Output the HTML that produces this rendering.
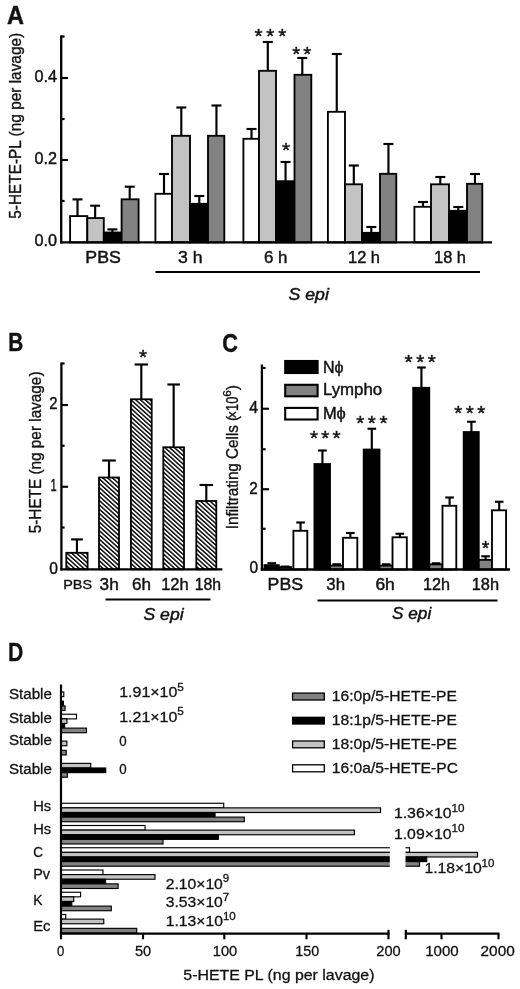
<!DOCTYPE html>
<html lang="en"><head><meta charset="utf-8"><title>Figure</title>
<style>html,body{margin:0;padding:0;background:#fff}svg{display:block}text{font-family:"Liberation Sans",Arial,Helvetica,sans-serif;fill:#111;stroke:#111;stroke-width:0.42px;stroke-linejoin:round}#panelD text{stroke-width:0.28px}text.r{stroke-width:0.36px}</style>
</head><body>
<svg width="520" height="989" viewBox="0 0 520 989">
<defs><pattern id="hatch" width="3.2" height="3.2" patternUnits="userSpaceOnUse" patternTransform="rotate(-48) translate(0.9 0)"><rect width="3.2" height="3.2" fill="#fff"/><rect x="0" y="0" width="1.5" height="3.2" fill="#0c0c0c"/></pattern></defs>
<rect x="0" y="0" width="520" height="989" fill="#fff"/>
<g id="panelA">
<text x="7.1" y="23.7" font-size="25.3" font-weight="bold" textLength="17" lengthAdjust="spacingAndGlyphs">A</text>
<text class="r" transform="translate(20.5 218.8) rotate(-90)" font-size="17" textLength="186" lengthAdjust="spacingAndGlyphs">5-HETE-PL (ng per lavage)</text>
<line x1="77.5" y1="199.4" x2="77.5" y2="217.3" stroke="#000" stroke-width="2.15"/>
<line x1="72.5" y1="199.4" x2="82.5" y2="199.4" stroke="#000" stroke-width="2.15"/>
<rect x="70.1" y="216.1" width="17.2" height="26.3" fill="#fff" stroke="#000" stroke-width="1.85"/>
<line x1="95.15" y1="205.7" x2="95.15" y2="219.3" stroke="#000" stroke-width="2.15"/>
<line x1="90.15" y1="205.7" x2="100.15" y2="205.7" stroke="#000" stroke-width="2.15"/>
<rect x="87.3" y="218.1" width="16.5" height="24.3" fill="#c3c3c3" stroke="#000" stroke-width="1.85"/>
<line x1="112.4" y1="229.4" x2="112.4" y2="233.7" stroke="#000" stroke-width="2.15"/>
<line x1="107.4" y1="229.4" x2="117.4" y2="229.4" stroke="#000" stroke-width="2.15"/>
<rect x="103.8" y="232.5" width="17.8" height="9.9" fill="#000" stroke="#000" stroke-width="1.85"/>
<line x1="129.7" y1="186.7" x2="129.7" y2="200.5" stroke="#000" stroke-width="2.15"/>
<line x1="124.7" y1="186.7" x2="134.7" y2="186.7" stroke="#000" stroke-width="2.15"/>
<rect x="121.6" y="199.3" width="17" height="43.1" fill="#828282" stroke="#000" stroke-width="1.85"/>
<line x1="164" y1="174" x2="164" y2="195" stroke="#000" stroke-width="2.15"/>
<line x1="159" y1="174" x2="169" y2="174" stroke="#000" stroke-width="2.15"/>
<rect x="155.4" y="193.8" width="16.6" height="48.6" fill="#fff" stroke="#000" stroke-width="1.85"/>
<line x1="181.3" y1="107.5" x2="181.3" y2="137" stroke="#000" stroke-width="2.15"/>
<line x1="176.3" y1="107.5" x2="186.3" y2="107.5" stroke="#000" stroke-width="2.15"/>
<rect x="172" y="135.8" width="18" height="106.6" fill="#c3c3c3" stroke="#000" stroke-width="1.85"/>
<line x1="199.3" y1="196" x2="199.3" y2="205" stroke="#000" stroke-width="2.15"/>
<line x1="194.3" y1="196" x2="204.3" y2="196" stroke="#000" stroke-width="2.15"/>
<rect x="190" y="203.8" width="18" height="38.6" fill="#000" stroke="#000" stroke-width="1.85"/>
<line x1="216.45" y1="105.5" x2="216.45" y2="137" stroke="#000" stroke-width="2.15"/>
<line x1="211.45" y1="105.5" x2="221.45" y2="105.5" stroke="#000" stroke-width="2.15"/>
<rect x="208" y="135.8" width="16.3" height="106.6" fill="#828282" stroke="#000" stroke-width="1.85"/>
<line x1="251.5" y1="129" x2="251.5" y2="140" stroke="#000" stroke-width="2.15"/>
<line x1="246.5" y1="129" x2="256.5" y2="129" stroke="#000" stroke-width="2.15"/>
<rect x="243.4" y="138.8" width="15.6" height="103.6" fill="#fff" stroke="#000" stroke-width="1.85"/>
<line x1="267.8" y1="42" x2="267.8" y2="72" stroke="#000" stroke-width="2.15"/>
<line x1="262.8" y1="42" x2="272.8" y2="42" stroke="#000" stroke-width="2.15"/>
<rect x="259" y="70.8" width="17" height="171.6" fill="#c3c3c3" stroke="#000" stroke-width="1.85"/>
<line x1="285.55" y1="162" x2="285.55" y2="182.4" stroke="#000" stroke-width="2.15"/>
<line x1="280.55" y1="162" x2="290.55" y2="162" stroke="#000" stroke-width="2.15"/>
<rect x="276" y="181.2" width="18.5" height="61.2" fill="#000" stroke="#000" stroke-width="1.85"/>
<line x1="302.3" y1="58" x2="302.3" y2="76" stroke="#000" stroke-width="2.15"/>
<line x1="297.3" y1="58" x2="307.3" y2="58" stroke="#000" stroke-width="2.15"/>
<rect x="294.5" y="74.8" width="16.8" height="167.6" fill="#828282" stroke="#000" stroke-width="1.85"/>
<line x1="336.75" y1="54" x2="336.75" y2="113" stroke="#000" stroke-width="2.15"/>
<line x1="331.75" y1="54" x2="341.75" y2="54" stroke="#000" stroke-width="2.15"/>
<rect x="327.9" y="111.8" width="17.1" height="130.6" fill="#fff" stroke="#000" stroke-width="1.85"/>
<line x1="353.8" y1="165.5" x2="353.8" y2="185.5" stroke="#000" stroke-width="2.15"/>
<line x1="348.8" y1="165.5" x2="358.8" y2="165.5" stroke="#000" stroke-width="2.15"/>
<rect x="345" y="184.3" width="17" height="58.1" fill="#c3c3c3" stroke="#000" stroke-width="1.85"/>
<line x1="371.3" y1="227" x2="371.3" y2="234" stroke="#000" stroke-width="2.15"/>
<line x1="366.3" y1="227" x2="376.3" y2="227" stroke="#000" stroke-width="2.15"/>
<rect x="362" y="232.8" width="18" height="9.6" fill="#000" stroke="#000" stroke-width="1.85"/>
<line x1="388.45" y1="144" x2="388.45" y2="175" stroke="#000" stroke-width="2.15"/>
<line x1="383.45" y1="144" x2="393.45" y2="144" stroke="#000" stroke-width="2.15"/>
<rect x="380" y="173.8" width="16.3" height="68.6" fill="#828282" stroke="#000" stroke-width="1.85"/>
<line x1="423" y1="202" x2="423" y2="208" stroke="#000" stroke-width="2.15"/>
<line x1="418" y1="202" x2="428" y2="202" stroke="#000" stroke-width="2.15"/>
<rect x="414.4" y="206.8" width="16.6" height="35.6" fill="#fff" stroke="#000" stroke-width="1.85"/>
<line x1="440.3" y1="177" x2="440.3" y2="185.5" stroke="#000" stroke-width="2.15"/>
<line x1="435.3" y1="177" x2="445.3" y2="177" stroke="#000" stroke-width="2.15"/>
<rect x="431" y="184.3" width="18" height="58.1" fill="#c3c3c3" stroke="#000" stroke-width="1.85"/>
<line x1="458.3" y1="207" x2="458.3" y2="212" stroke="#000" stroke-width="2.15"/>
<line x1="453.3" y1="207" x2="463.3" y2="207" stroke="#000" stroke-width="2.15"/>
<rect x="449" y="210.8" width="18" height="31.6" fill="#000" stroke="#000" stroke-width="1.85"/>
<line x1="474.95" y1="174" x2="474.95" y2="185" stroke="#000" stroke-width="2.15"/>
<line x1="469.95" y1="174" x2="479.95" y2="174" stroke="#000" stroke-width="2.15"/>
<rect x="467" y="183.8" width="15.3" height="58.6" fill="#828282" stroke="#000" stroke-width="1.85"/>
<line x1="61.2" y1="35.4" x2="61.2" y2="243.5" stroke="#000" stroke-width="2.3"/>
<line x1="60" y1="242.4" x2="492" y2="242.4" stroke="#000" stroke-width="2.3"/>
<line x1="61.2" y1="78" x2="68" y2="78" stroke="#000" stroke-width="2.15"/>
<line x1="61.2" y1="160" x2="68" y2="160" stroke="#000" stroke-width="2.15"/>
<line x1="61.2" y1="36.5" x2="64.6" y2="36.5" stroke="#000" stroke-width="2.15"/>
<line x1="61.2" y1="119" x2="64.6" y2="119" stroke="#000" stroke-width="2.15"/>
<line x1="61.2" y1="201" x2="64.6" y2="201" stroke="#000" stroke-width="2.15"/>
<text x="34.4" y="82" font-size="16" textLength="22.5" lengthAdjust="spacingAndGlyphs">0.4</text>
<text x="34.4" y="164" font-size="16" textLength="22.5" lengthAdjust="spacingAndGlyphs">0.2</text>
<text x="34.4" y="246" font-size="16" textLength="22.5" lengthAdjust="spacingAndGlyphs">0.0</text>
<text x="85.3" y="263" font-size="16" textLength="35.5" lengthAdjust="spacingAndGlyphs">PBS</text>
<text x="178" y="263" font-size="16" textLength="24.5" lengthAdjust="spacingAndGlyphs">3 h</text>
<text x="264" y="263" font-size="16" textLength="23.5" lengthAdjust="spacingAndGlyphs">6 h</text>
<text x="348" y="263" font-size="16" textLength="32" lengthAdjust="spacingAndGlyphs">12 h</text>
<text x="434" y="263" font-size="16" textLength="32" lengthAdjust="spacingAndGlyphs">18 h</text>
<line x1="155.5" y1="272" x2="480" y2="272" stroke="#000" stroke-width="2.15"/>
<text x="288.5" y="299.5" font-size="16" font-style="italic" textLength="40.4" lengthAdjust="spacingAndGlyphs">S epi</text>
<text x="254.57 266.27 278.17" y="42.7" font-size="20.7">***</text>
<text x="292.17 303.37" y="61.3" font-size="20.7">**</text>
<text x="281.97" y="156.7" font-size="20.7">*</text>
</g>
<g id="panelB">
<text x="8.2" y="351.2" font-size="25.3" font-weight="bold" textLength="15" lengthAdjust="spacingAndGlyphs">B</text>
<text class="r" transform="translate(40.5 533.3) rotate(-90)" font-size="17" textLength="161.8" lengthAdjust="spacingAndGlyphs">5-HETE (ng per lavage)</text>
<line x1="76.95" y1="539.4" x2="76.95" y2="553.3" stroke="#000" stroke-width="2.15"/>
<line x1="71.1" y1="539.4" x2="82.8" y2="539.4" stroke="#000" stroke-width="2.15"/>
<rect x="66.3" y="552.8" width="21.3" height="16.5" fill="url(#hatch)" stroke="#000" stroke-width="1.8"/>
<line x1="109" y1="460.5" x2="109" y2="478" stroke="#000" stroke-width="2.15"/>
<line x1="102.25" y1="460.5" x2="115.75" y2="460.5" stroke="#000" stroke-width="2.15"/>
<rect x="99" y="477.5" width="20" height="91.8" fill="url(#hatch)" stroke="#000" stroke-width="1.8"/>
<line x1="141.3" y1="364.5" x2="141.3" y2="399.75" stroke="#000" stroke-width="2.15"/>
<line x1="134.55" y1="364.5" x2="148.05" y2="364.5" stroke="#000" stroke-width="2.15"/>
<rect x="130.9" y="399.25" width="20.8" height="170.05" fill="url(#hatch)" stroke="#000" stroke-width="1.8"/>
<line x1="173.65" y1="384.5" x2="173.65" y2="447.75" stroke="#000" stroke-width="2.15"/>
<line x1="167.4" y1="384.5" x2="179.9" y2="384.5" stroke="#000" stroke-width="2.15"/>
<rect x="163.3" y="447.25" width="20.7" height="122.05" fill="url(#hatch)" stroke="#000" stroke-width="1.8"/>
<line x1="206.3" y1="485" x2="206.3" y2="501.5" stroke="#000" stroke-width="2.15"/>
<line x1="199.55" y1="485" x2="213.05" y2="485" stroke="#000" stroke-width="2.15"/>
<rect x="196.3" y="501" width="20" height="68.3" fill="url(#hatch)" stroke="#000" stroke-width="1.8"/>
<line x1="61.4" y1="362.5" x2="61.4" y2="570.4" stroke="#000" stroke-width="2.3"/>
<line x1="60.2" y1="569.3" x2="222.4" y2="569.3" stroke="#000" stroke-width="2.3"/>
<line x1="61.4" y1="405" x2="68" y2="405" stroke="#000" stroke-width="2.15"/>
<line x1="61.4" y1="486.75" x2="68" y2="486.75" stroke="#000" stroke-width="2.15"/>
<line x1="61.4" y1="363.5" x2="64.6" y2="363.5" stroke="#000" stroke-width="2.15"/>
<line x1="61.4" y1="445.75" x2="64.6" y2="445.75" stroke="#000" stroke-width="2.15"/>
<line x1="61.4" y1="527.5" x2="64.6" y2="527.5" stroke="#000" stroke-width="2.15"/>
<text x="49.3" y="409.3" font-size="16" textLength="8.2" lengthAdjust="spacingAndGlyphs">2</text>
<text x="50.6" y="491.3" font-size="16" textLength="6.2" lengthAdjust="spacingAndGlyphs">1</text>
<text x="49.2" y="573.5" font-size="16" textLength="8.7" lengthAdjust="spacingAndGlyphs">0</text>
<text x="63.2" y="589.2" font-size="12.5" class="r" textLength="28.8" lengthAdjust="spacingAndGlyphs">PBS</text>
<text x="99.6" y="590" font-size="16" textLength="19.11" lengthAdjust="spacingAndGlyphs">3h</text>
<text x="132" y="590" font-size="16" textLength="19.01" lengthAdjust="spacingAndGlyphs">6h</text>
<text x="161.2" y="590" font-size="16" textLength="27.51" lengthAdjust="spacingAndGlyphs">12h</text>
<text x="194.7" y="590" font-size="16" textLength="26.31" lengthAdjust="spacingAndGlyphs">18h</text>
<line x1="105.5" y1="599.5" x2="210.5" y2="599.5" stroke="#000" stroke-width="2.15"/>
<text x="143.5" y="620" font-size="16" font-style="italic" textLength="40.1" lengthAdjust="spacingAndGlyphs">S epi</text>
<text x="139.07" y="363.7" font-size="20.7">*</text>
</g>
<g id="panelC">
<text x="222.2" y="352.2" font-size="25.3" font-weight="bold" textLength="15.6" lengthAdjust="spacingAndGlyphs">C</text>
<text class="r" transform="translate(238 529.2) rotate(-90)" font-size="17" textLength="113.4" lengthAdjust="spacingAndGlyphs">Infiltrating Cells (</text>
<text class="r" transform="translate(238 418.6) rotate(-90)" font-size="17" textLength="22" lengthAdjust="spacingAndGlyphs">×10</text>
<text class="r" transform="translate(230.6 396.8) rotate(-90)" font-size="11.5" textLength="6.6" lengthAdjust="spacingAndGlyphs">6</text>
<text class="r" transform="translate(238 390.2) rotate(-90)" font-size="17" textLength="5.2" lengthAdjust="spacingAndGlyphs">)</text>
<line x1="271.8" y1="563.2" x2="271.8" y2="565.8" stroke="#000" stroke-width="2.15"/>
<line x1="267.5" y1="563.2" x2="276.1" y2="563.2" stroke="#000" stroke-width="2.15"/>
<rect x="264.45" y="565.1" width="14.3" height="4.4" fill="#000" stroke="#000" stroke-width="1.85"/>
<line x1="285.07" y1="566.6" x2="285.07" y2="567.8" stroke="#000" stroke-width="2.15"/>
<line x1="280.77" y1="566.6" x2="289.38" y2="566.6" stroke="#000" stroke-width="2.15"/>
<rect x="278.75" y="567.1" width="12.25" height="2.4" fill="#828282" stroke="#000" stroke-width="1.85"/>
<line x1="300.55" y1="522.5" x2="300.55" y2="531.5" stroke="#000" stroke-width="2.15"/>
<line x1="296.25" y1="522.5" x2="304.85" y2="522.5" stroke="#000" stroke-width="2.15"/>
<rect x="293.4" y="530.8" width="13.9" height="38.7" fill="#fff" stroke="#000" stroke-width="1.85"/>
<line x1="322.43" y1="450.5" x2="322.43" y2="464.75" stroke="#000" stroke-width="2.15"/>
<line x1="318.12" y1="450.5" x2="326.73" y2="450.5" stroke="#000" stroke-width="2.15"/>
<rect x="314.45" y="464.05" width="15.55" height="105.45" fill="#000" stroke="#000" stroke-width="1.85"/>
<line x1="336.7" y1="564.3" x2="336.7" y2="566.3" stroke="#000" stroke-width="2.15"/>
<line x1="332.4" y1="564.3" x2="341" y2="564.3" stroke="#000" stroke-width="2.15"/>
<rect x="330" y="565.6" width="13" height="3.9" fill="#828282" stroke="#000" stroke-width="1.85"/>
<line x1="350.35" y1="533" x2="350.35" y2="538.5" stroke="#000" stroke-width="2.15"/>
<line x1="346.05" y1="533" x2="354.65" y2="533" stroke="#000" stroke-width="2.15"/>
<rect x="343" y="537.8" width="14.3" height="31.7" fill="#fff" stroke="#000" stroke-width="1.85"/>
<line x1="371.8" y1="428.75" x2="371.8" y2="450.25" stroke="#000" stroke-width="2.15"/>
<line x1="367.5" y1="428.75" x2="376.1" y2="428.75" stroke="#000" stroke-width="2.15"/>
<rect x="363.7" y="449.55" width="15.8" height="119.95" fill="#000" stroke="#000" stroke-width="1.85"/>
<line x1="386.2" y1="564.3" x2="386.2" y2="566.3" stroke="#000" stroke-width="2.15"/>
<line x1="381.9" y1="564.3" x2="390.5" y2="564.3" stroke="#000" stroke-width="2.15"/>
<rect x="379.5" y="565.6" width="13" height="3.9" fill="#828282" stroke="#000" stroke-width="1.85"/>
<line x1="399.85" y1="533.75" x2="399.85" y2="538" stroke="#000" stroke-width="2.15"/>
<line x1="395.55" y1="533.75" x2="404.15" y2="533.75" stroke="#000" stroke-width="2.15"/>
<rect x="392.5" y="537.3" width="14.3" height="32.2" fill="#fff" stroke="#000" stroke-width="1.85"/>
<line x1="421.43" y1="367.5" x2="421.43" y2="388.5" stroke="#000" stroke-width="2.15"/>
<line x1="417.12" y1="367.5" x2="425.73" y2="367.5" stroke="#000" stroke-width="2.15"/>
<rect x="413.2" y="387.8" width="16.05" height="181.7" fill="#000" stroke="#000" stroke-width="1.85"/>
<line x1="436.07" y1="563.3" x2="436.07" y2="565.05" stroke="#000" stroke-width="2.15"/>
<line x1="431.77" y1="563.3" x2="440.38" y2="563.3" stroke="#000" stroke-width="2.15"/>
<rect x="429.25" y="564.35" width="13.25" height="5.15" fill="#828282" stroke="#000" stroke-width="1.85"/>
<line x1="449.6" y1="497.5" x2="449.6" y2="506.5" stroke="#000" stroke-width="2.15"/>
<line x1="445.3" y1="497.5" x2="453.9" y2="497.5" stroke="#000" stroke-width="2.15"/>
<rect x="442.5" y="505.8" width="13.8" height="63.7" fill="#fff" stroke="#000" stroke-width="1.85"/>
<line x1="471.43" y1="421.75" x2="471.43" y2="432.75" stroke="#000" stroke-width="2.15"/>
<line x1="467.12" y1="421.75" x2="475.73" y2="421.75" stroke="#000" stroke-width="2.15"/>
<rect x="463.7" y="432.05" width="15.05" height="137.45" fill="#000" stroke="#000" stroke-width="1.85"/>
<line x1="485.57" y1="556.3" x2="485.57" y2="560.55" stroke="#000" stroke-width="2.15"/>
<line x1="481.27" y1="556.3" x2="489.88" y2="556.3" stroke="#000" stroke-width="2.15"/>
<rect x="478.75" y="559.85" width="13.25" height="9.65" fill="#828282" stroke="#000" stroke-width="1.85"/>
<line x1="499.22" y1="501.75" x2="499.22" y2="511" stroke="#000" stroke-width="2.15"/>
<line x1="494.92" y1="501.75" x2="503.52" y2="501.75" stroke="#000" stroke-width="2.15"/>
<rect x="492" y="510.3" width="14.05" height="59.2" fill="#fff" stroke="#000" stroke-width="1.85"/>
<line x1="261.9" y1="364.5" x2="261.9" y2="570.6" stroke="#000" stroke-width="2.3"/>
<line x1="260.8" y1="569.5" x2="510" y2="569.5" stroke="#000" stroke-width="2.3"/>
<line x1="261.9" y1="408.75" x2="269" y2="408.75" stroke="#000" stroke-width="2.15"/>
<line x1="261.9" y1="489.25" x2="269" y2="489.25" stroke="#000" stroke-width="2.15"/>
<line x1="261.9" y1="368" x2="265.6" y2="368" stroke="#000" stroke-width="2.15"/>
<line x1="261.9" y1="449.25" x2="265.6" y2="449.25" stroke="#000" stroke-width="2.15"/>
<line x1="261.9" y1="528.75" x2="265.6" y2="528.75" stroke="#000" stroke-width="2.15"/>
<text x="249.2" y="413.4" font-size="16" textLength="8.8" lengthAdjust="spacingAndGlyphs">4</text>
<text x="249.3" y="493.9" font-size="16" textLength="8.5" lengthAdjust="spacingAndGlyphs">2</text>
<text x="249.4" y="573.2" font-size="16" textLength="8.6" lengthAdjust="spacingAndGlyphs">0</text>
<rect x="285.2" y="361" width="32.4" height="12" fill="#000" stroke="#000" stroke-width="2.1"/>
<rect x="285.2" y="384.8" width="32.4" height="11.5" fill="#828282" stroke="#000" stroke-width="2.1"/>
<rect x="285.2" y="407.9" width="32.4" height="11.6" fill="#fff" stroke="#000" stroke-width="2.1"/>
<text x="322.9" y="373" font-size="16" textLength="20.6" lengthAdjust="spacingAndGlyphs">Nϕ</text>
<text x="322.9" y="395.3" font-size="16" textLength="59.29" lengthAdjust="spacingAndGlyphs">Lympho</text>
<text x="322.9" y="418.6" font-size="16" textLength="22.9" lengthAdjust="spacingAndGlyphs">Mϕ</text>
<text x="309.97 321.22 332.47" y="445.3" font-size="20.7">***</text>
<text x="356.22 367.87 379.47" y="430.3" font-size="20.7">***</text>
<text x="404.47 416.17 427.87" y="369.4" font-size="20.7">***</text>
<text x="454.22 465.77 477.27" y="420" font-size="20.7">***</text>
<text x="481.81" y="555.19" font-size="19.5">*</text>
<text x="267.6" y="590" font-size="16" textLength="35.4" lengthAdjust="spacingAndGlyphs">PBS</text>
<text x="326.3" y="590" font-size="16" textLength="18.71" lengthAdjust="spacingAndGlyphs">3h</text>
<text x="375.4" y="590" font-size="16" textLength="19.41" lengthAdjust="spacingAndGlyphs">6h</text>
<text x="423" y="590" font-size="16" textLength="27.01" lengthAdjust="spacingAndGlyphs">12h</text>
<text x="471.7" y="590" font-size="16" textLength="27.31" lengthAdjust="spacingAndGlyphs">18h</text>
<line x1="317.5" y1="600.5" x2="497.5" y2="600.5" stroke="#000" stroke-width="2.15"/>
<text x="392" y="619.3" font-size="16" font-style="italic" textLength="39.21" lengthAdjust="spacingAndGlyphs">S epi</text>
</g>
<g id="panelD">
<text x="7.9" y="660.9" font-size="25.3" font-weight="bold" textLength="15.3" lengthAdjust="spacingAndGlyphs">D</text>
<rect x="61" y="692" width="2.77" height="4.62" fill="#fff" stroke="#000" stroke-width="1.15"/>
<rect x="61" y="701.24" width="2.45" height="4.62" fill="#000" stroke="#000" stroke-width="1.15"/>
<rect x="61" y="705.86" width="4.08" height="4.62" fill="#828282" stroke="#000" stroke-width="1.15"/>
<rect x="61" y="714.25" width="15.5" height="4.62" fill="#fff" stroke="#000" stroke-width="1.15"/>
<rect x="61" y="718.87" width="5.88" height="4.62" fill="#c3c3c3" stroke="#000" stroke-width="1.15"/>
<rect x="61" y="723.49" width="3.59" height="4.62" fill="#000" stroke="#000" stroke-width="1.15"/>
<rect x="61" y="728.11" width="25.46" height="4.62" fill="#828282" stroke="#000" stroke-width="1.15"/>
<rect x="61" y="741.12" width="5.88" height="4.62" fill="#c3c3c3" stroke="#000" stroke-width="1.15"/>
<rect x="61" y="750.36" width="5.22" height="4.62" fill="#828282" stroke="#000" stroke-width="1.15"/>
<rect x="61" y="763.37" width="29.7" height="4.62" fill="#c3c3c3" stroke="#000" stroke-width="1.15"/>
<rect x="61" y="767.99" width="44.72" height="4.62" fill="#000" stroke="#000" stroke-width="1.15"/>
<rect x="61" y="772.61" width="6.36" height="4.62" fill="#828282" stroke="#000" stroke-width="1.15"/>
<rect x="61" y="803.25" width="162.71" height="4.62" fill="#fff" stroke="#000" stroke-width="1.15"/>
<rect x="61" y="807.87" width="319.55" height="4.62" fill="#c3c3c3" stroke="#000" stroke-width="1.15"/>
<rect x="61" y="812.49" width="154.06" height="4.62" fill="#000" stroke="#000" stroke-width="1.15"/>
<rect x="61" y="817.11" width="183.27" height="4.62" fill="#828282" stroke="#000" stroke-width="1.15"/>
<rect x="61" y="825.5" width="84.05" height="4.62" fill="#fff" stroke="#000" stroke-width="1.15"/>
<rect x="61" y="830.12" width="293.43" height="4.62" fill="#c3c3c3" stroke="#000" stroke-width="1.15"/>
<rect x="61" y="834.74" width="157.32" height="4.62" fill="#000" stroke="#000" stroke-width="1.15"/>
<rect x="61" y="839.36" width="102" height="4.62" fill="#828282" stroke="#000" stroke-width="1.15"/>
<rect x="61" y="847.75" width="336.19" height="4.62" fill="#fff" stroke="#000" stroke-width="1.15"/>
<rect x="61" y="852.37" width="336.19" height="4.62" fill="#c3c3c3" stroke="#000" stroke-width="1.15"/>
<rect x="61" y="856.99" width="336.19" height="4.62" fill="#000" stroke="#000" stroke-width="1.15"/>
<rect x="61" y="861.61" width="336.19" height="4.62" fill="#828282" stroke="#000" stroke-width="1.15"/>
<rect x="61" y="870" width="41.94" height="4.62" fill="#fff" stroke="#000" stroke-width="1.15"/>
<rect x="61" y="874.62" width="94" height="4.62" fill="#c3c3c3" stroke="#000" stroke-width="1.15"/>
<rect x="61" y="879.24" width="44.55" height="4.62" fill="#000" stroke="#000" stroke-width="1.15"/>
<rect x="61" y="883.86" width="57.12" height="4.62" fill="#828282" stroke="#000" stroke-width="1.15"/>
<rect x="61" y="892.25" width="19.58" height="4.62" fill="#fff" stroke="#000" stroke-width="1.15"/>
<rect x="61" y="896.87" width="12.73" height="4.62" fill="#c3c3c3" stroke="#000" stroke-width="1.15"/>
<rect x="61" y="901.49" width="10.77" height="4.62" fill="#000" stroke="#000" stroke-width="1.15"/>
<rect x="61" y="906.11" width="50.27" height="4.62" fill="#828282" stroke="#000" stroke-width="1.15"/>
<rect x="61" y="914.5" width="4.73" height="4.62" fill="#fff" stroke="#000" stroke-width="1.15"/>
<rect x="61" y="919.12" width="42.76" height="4.62" fill="#c3c3c3" stroke="#000" stroke-width="1.15"/>
<rect x="61" y="928.36" width="75.72" height="4.62" fill="#828282" stroke="#000" stroke-width="1.15"/>
<rect x="400" y="847.75" width="9.5" height="4.62" fill="#fff" stroke="#000" stroke-width="1.15"/>
<rect x="400" y="852.37" width="77.5" height="4.62" fill="#c3c3c3" stroke="#000" stroke-width="1.15"/>
<rect x="400" y="856.99" width="26.75" height="4.62" fill="#000" stroke="#000" stroke-width="1.15"/>
<rect x="400" y="861.61" width="19.5" height="4.62" fill="#828282" stroke="#000" stroke-width="1.15"/>
<rect x="389.8" y="840" width="15.7" height="30" fill="#fff"/>
<line x1="61" y1="684.5" x2="61" y2="939.3" stroke="#000" stroke-width="2.2"/>
<line x1="59.9" y1="933.6" x2="389.4" y2="933.6" stroke="#000" stroke-width="2.1"/>
<line x1="404.9" y1="933.6" x2="499.4" y2="933.6" stroke="#000" stroke-width="2.1"/>
<line x1="143" y1="933.6" x2="143" y2="939.3" stroke="#000" stroke-width="2.15"/>
<line x1="224.3" y1="933.6" x2="224.3" y2="939.3" stroke="#000" stroke-width="2.15"/>
<line x1="306.5" y1="933.6" x2="306.5" y2="939.3" stroke="#000" stroke-width="2.15"/>
<line x1="388.5" y1="929.8" x2="388.5" y2="939.3" stroke="#000" stroke-width="2.15"/>
<line x1="405.8" y1="929.8" x2="405.8" y2="939.3" stroke="#000" stroke-width="2.15"/>
<line x1="441.5" y1="933.6" x2="441.5" y2="939.3" stroke="#000" stroke-width="2.15"/>
<line x1="498.5" y1="933.6" x2="498.5" y2="939.3" stroke="#000" stroke-width="2.15"/>
<text x="57.1" y="955.6" font-size="14" textLength="7.3" lengthAdjust="spacingAndGlyphs">0</text>
<text x="135" y="955.6" font-size="14" textLength="16.2" lengthAdjust="spacingAndGlyphs">50</text>
<text x="212.8" y="955.6" font-size="14" textLength="24.41" lengthAdjust="spacingAndGlyphs">100</text>
<text x="295.2" y="955.6" font-size="14" textLength="23.91" lengthAdjust="spacingAndGlyphs">150</text>
<text x="376.3" y="955.6" font-size="14" textLength="24.31" lengthAdjust="spacingAndGlyphs">200</text>
<text x="425.2" y="955.6" font-size="14" textLength="33.59" lengthAdjust="spacingAndGlyphs">1000</text>
<text x="480.5" y="955.6" font-size="14" textLength="34.29" lengthAdjust="spacingAndGlyphs">2000</text>
<text x="183.3" y="979.8" font-size="14" textLength="191.2" lengthAdjust="spacingAndGlyphs">5-HETE PL (ng per lavage)</text>
<text x="8.9" y="698.5" font-size="14" textLength="43.01" lengthAdjust="spacingAndGlyphs">Stable</text>
<text x="8.9" y="723.2" font-size="14" textLength="43.01" lengthAdjust="spacingAndGlyphs">Stable</text>
<text x="8.9" y="745.3" font-size="14" textLength="43.01" lengthAdjust="spacingAndGlyphs">Stable</text>
<text x="8.9" y="773.5" font-size="14" textLength="43.01" lengthAdjust="spacingAndGlyphs">Stable</text>
<text x="33.2" y="810.75" font-size="14" textLength="18" lengthAdjust="spacingAndGlyphs">Hs</text>
<text x="33.2" y="833.5" font-size="14" textLength="18" lengthAdjust="spacingAndGlyphs">Hs</text>
<text x="33.2" y="856.6" font-size="14" textLength="9.8" lengthAdjust="spacingAndGlyphs">C</text>
<text x="33.2" y="878.5" font-size="14" textLength="16.8" lengthAdjust="spacingAndGlyphs">Pv</text>
<text x="33.2" y="905" font-size="14" textLength="9.3" lengthAdjust="spacingAndGlyphs">K</text>
<text x="33.2" y="930.75" font-size="14" textLength="17.3" lengthAdjust="spacingAndGlyphs">Ec</text>
<text x="119.2" y="697.3" font-size="14" textLength="64.7" lengthAdjust="spacingAndGlyphs">1.91×10<tspan dy="-6.2" font-size="10.3">5</tspan></text>
<text x="119.2" y="721.6" font-size="14" textLength="64.7" lengthAdjust="spacingAndGlyphs">1.21×10<tspan dy="-6.2" font-size="10.3">5</tspan></text>
<text x="119.2" y="745.7" font-size="14" textLength="7.4" lengthAdjust="spacingAndGlyphs">0</text>
<text x="119.2" y="773.5" font-size="14" textLength="7.4" lengthAdjust="spacingAndGlyphs">0</text>
<text x="393.9" y="817.9" font-size="14" textLength="70.6" lengthAdjust="spacingAndGlyphs">1.36×10<tspan dy="-6.2" font-size="10.3">10</tspan></text>
<text x="393.9" y="838.65" font-size="14" textLength="70.6" lengthAdjust="spacingAndGlyphs">1.09×10<tspan dy="-6.2" font-size="10.3">10</tspan></text>
<text x="424.4" y="872.9" font-size="14" textLength="70.1" lengthAdjust="spacingAndGlyphs">1.18×10<tspan dy="-6.2" font-size="10.3">10</tspan></text>
<text x="165.7" y="888.65" font-size="14" textLength="63.6" lengthAdjust="spacingAndGlyphs">2.10×10<tspan dy="-6.2" font-size="10.3">9</tspan></text>
<text x="165.7" y="907.4" font-size="14" textLength="63.6" lengthAdjust="spacingAndGlyphs">3.53×10<tspan dy="-6.2" font-size="10.3">7</tspan></text>
<text x="165.7" y="925.9" font-size="14" textLength="70.1" lengthAdjust="spacingAndGlyphs">1.13×10<tspan dy="-6.2" font-size="10.3">10</tspan></text>
<rect x="292.6" y="693.1" width="31.7" height="6.9" fill="#828282" stroke="#000" stroke-width="1.3"/>
<rect x="292.6" y="717.3" width="31.7" height="6.7" fill="#000" stroke="#000" stroke-width="1.3"/>
<rect x="292.6" y="741" width="31.7" height="6.8" fill="#c3c3c3" stroke="#000" stroke-width="1.3"/>
<rect x="292.6" y="764.8" width="31.7" height="7" fill="#fff" stroke="#000" stroke-width="1.3"/>
<text x="331.8" y="701.4" font-size="14" textLength="125.21" lengthAdjust="spacingAndGlyphs">16:0p/5-HETE-PE</text>
<text x="331.8" y="725" font-size="14" textLength="125.21" lengthAdjust="spacingAndGlyphs">18:1p/5-HETE-PE</text>
<text x="331.8" y="748.6" font-size="14" textLength="125.21" lengthAdjust="spacingAndGlyphs">18:0p/5-HETE-PE</text>
<text x="331.8" y="772.9" font-size="14" textLength="126.19" lengthAdjust="spacingAndGlyphs">16:0a/5-HETE-PC</text>
</g>
</svg></body></html>
